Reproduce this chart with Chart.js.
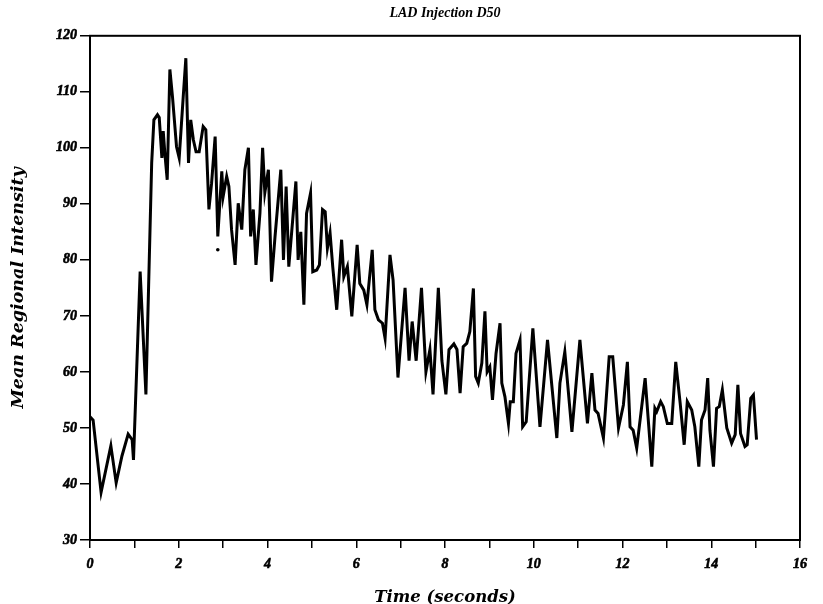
<!DOCTYPE html>
<html>
<head>
<meta charset="utf-8">
<script src="https://cdn.jsdelivr.net/npm/chart.js@4/dist/chart.umd.min.js"></script>
<style>
html,body{margin:0;padding:0;background:#fff;}
#wrap{width:823px;height:604px;}
</style>
</head>
<body>
<div id="wrap"><canvas id="c" width="823" height="604"></canvas></div>
<script>
const chartTitle = 'LAD Injection D50';
const xTitle = 'Time (seconds)';
const yTitle = 'Mean Regional Intensity';

const times = [0,0.07,0.25,0.47,0.59,0.72,0.86,0.95,0.98,1.13,1.26,1.39,1.44,1.52,1.56,1.62,1.65,1.69,1.74,1.80,1.86,1.95,2.01,2.10,2.16,2.22,2.27,2.33,2.39,2.46,2.55,2.61,2.68,2.74,2.82,2.88,2.97,3.00,3.08,3.13,3.19,3.27,3.34,3.42,3.49,3.57,3.62,3.68,3.74,3.83,3.89,3.94,4.02,4.09,4.17,4.30,4.36,4.42,4.48,4.64,4.69,4.75,4.82,4.88,4.97,5.02,5.11,5.17,5.24,5.30,5.35,5.41,5.47,5.56,5.67,5.72,5.80,5.90,6.02,6.08,6.17,6.24,6.36,6.42,6.50,6.59,6.65,6.76,6.83,6.94,7.10,7.19,7.26,7.35,7.47,7.57,7.66,7.73,7.85,7.93,8.02,8.09,8.20,8.27,8.34,8.41,8.49,8.56,8.64,8.69,8.75,8.83,8.90,8.95,9.01,9.07,9.15,9.24,9.28,9.35,9.43,9.47,9.54,9.60,9.69,9.75,9.83,9.98,10.14,10.31,10.52,10.59,10.70,10.86,11.04,11.21,11.31,11.38,11.45,11.57,11.70,11.78,11.91,12.02,12.11,12.17,12.24,12.32,12.51,12.66,12.73,12.77,12.86,12.92,13.01,13.11,13.20,13.30,13.39,13.46,13.56,13.63,13.72,13.78,13.86,13.92,13.97,14.05,14.12,14.18,14.25,14.35,14.46,14.54,14.60,14.66,14.76,14.81,14.89,14.95,15.02];

const intensity = [52.0,51.4,38.5,46.8,40.2,45,48.9,47.9,44.3,77.9,56,97.3,105,105.9,105.4,98.2,103,98.7,94.3,114,109,100.2,98.2,109,116,97.3,105,101.4,99.3,99.3,103.8,103.2,89,93.7,102,84.2,95.8,91.3,94.9,93.1,85.4,79.1,90.1,85.4,96.1,100,84.2,89,79.1,88.4,100,92,96.1,76.1,84.2,96.1,80,93.1,78.8,94,80,85,72,88.3,91.9,77.9,78.2,79.1,89,88.6,82.1,84.8,78.8,71.1,83.6,77,78.8,69.9,82.7,75.8,74.6,72,81.8,71.1,69.3,68.7,66,80.9,76.4,59,75,62,69,62,75,60,64,56,75,62,56,64,65,64,56.2,64.5,65.1,67.2,74.9,59.2,58,61.6,70.8,60,60.9,55,63.3,68.7,58,55.6,50.8,54.7,54.7,63.3,65.7,50.2,51.1,67.8,50.2,65.7,48.2,58,63.6,49.3,65.7,50.8,59.8,53.2,52.6,48.2,62.7,62.7,50,54.1,61.8,50.2,49.6,46.4,58.9,43.1,53.5,52.9,54.7,53.8,50.8,50.8,61.8,54.4,47,54.7,53.2,50.2,43.1,51.4,53.2,58.9,49.6,43.1,53.5,53.8,56.8,50,47.3,48.8,57.7,49,46.7,47,55.3,55.9,47.9];

const strayTimes = [2.88];
const strayValues = [81.8];

const xMin = 0, xMax = 16, xStep = 1, xLabelEvery = 2;
const yMin = 30, yMax = 120, yStep = 10;

const n = Math.min(times.length, intensity.length);
const lineData = [];
for (let i = 0; i < n; i++) lineData.push({x: times[i], y: intensity[i]});
const strayData = strayTimes.map((t, i) => ({x: t, y: strayValues[i]}));

const FONT = '"Liberation Serif", "DejaVu Serif", serif';
const WIDE = '"DejaVu Serif", "Liberation Serif", serif';

const frame = {
  id: 'frame',
  afterDraw(chart) {
    const a = chart.chartArea, ctx = chart.ctx;
    ctx.save();
    ctx.strokeStyle = '#000';
    ctx.lineWidth = 2;
    ctx.strokeRect(a.left, a.top, a.right - a.left, a.bottom - a.top);
    ctx.restore();
  }
};

new Chart(document.getElementById('c'), {
  type: 'line',
  data: {
    datasets: [
      {data: lineData, borderColor: '#000', borderWidth: 3, pointRadius: 0, tension: 0, fill: false},
      {data: strayData, showLine: false, pointRadius: 1.8, pointBackgroundColor: '#000', pointBorderWidth: 0}
    ]
  },
  options: {
    responsive: false,
    animation: false,
    layout: {padding: {left: 0, right: 23, top: 0, bottom: 0}},
    plugins: {
      legend: {display: false},
      tooltip: {enabled: false},
      title: {
        display: true, text: chartTitle, color: '#000', fullSize: false,
        font: {family: FONT, size: 14, style: 'italic', weight: 'bold', lineHeight: 1.2},
        padding: {top: 5, bottom: 14}
      }
    },
    scales: {
      x: {
        type: 'linear', min: xMin, max: xMax,
        afterFit(s) { s.height = 64; },
        border: {display: true, color: '#000', width: 2},
        grid: {display: true, drawOnChartArea: false, drawTicks: true, tickLength: 8, color: '#000', lineWidth: 1.5},
        ticks: {
          stepSize: xStep, autoSkip: false, maxRotation: 0, color: '#000', padding: 8,
          textStrokeColor: '#000', textStrokeWidth: 0.6,
          font: {family: FONT, size: 14, style: 'italic', weight: 'bold'},
          callback: v => (v % xLabelEvery === 0 ? String(v) : '')
        },
        title: {
          display: true, text: xTitle, color: '#000', padding: {top: 0, bottom: 0},
          font: {family: WIDE, size: 16.5, style: 'italic', weight: 'bold', lineHeight: 0.8}
        }
      },
      y: {
        type: 'linear', min: yMin, max: yMax,
        afterFit(s) { s.width = 90; },
        border: {display: true, color: '#000', width: 2},
        grid: {display: true, drawOnChartArea: false, drawTicks: true, tickLength: 10, color: '#000', lineWidth: 1.5},
        ticks: {
          stepSize: yStep, color: '#000', padding: 3,
          textStrokeColor: '#000', textStrokeWidth: 0.6,
          font: {family: FONT, size: 14, style: 'italic', weight: 'bold'},
          callback: v => String(v)
        },
        title: {
          display: true, text: yTitle, color: '#000', padding: {top: 8, bottom: 0},
          font: {family: WIDE, size: 17.5, style: 'italic', weight: 'bold', lineHeight: 1.2}
        }
      }
    }
  },
  plugins: [frame]
});
</script>
</body>
</html>
